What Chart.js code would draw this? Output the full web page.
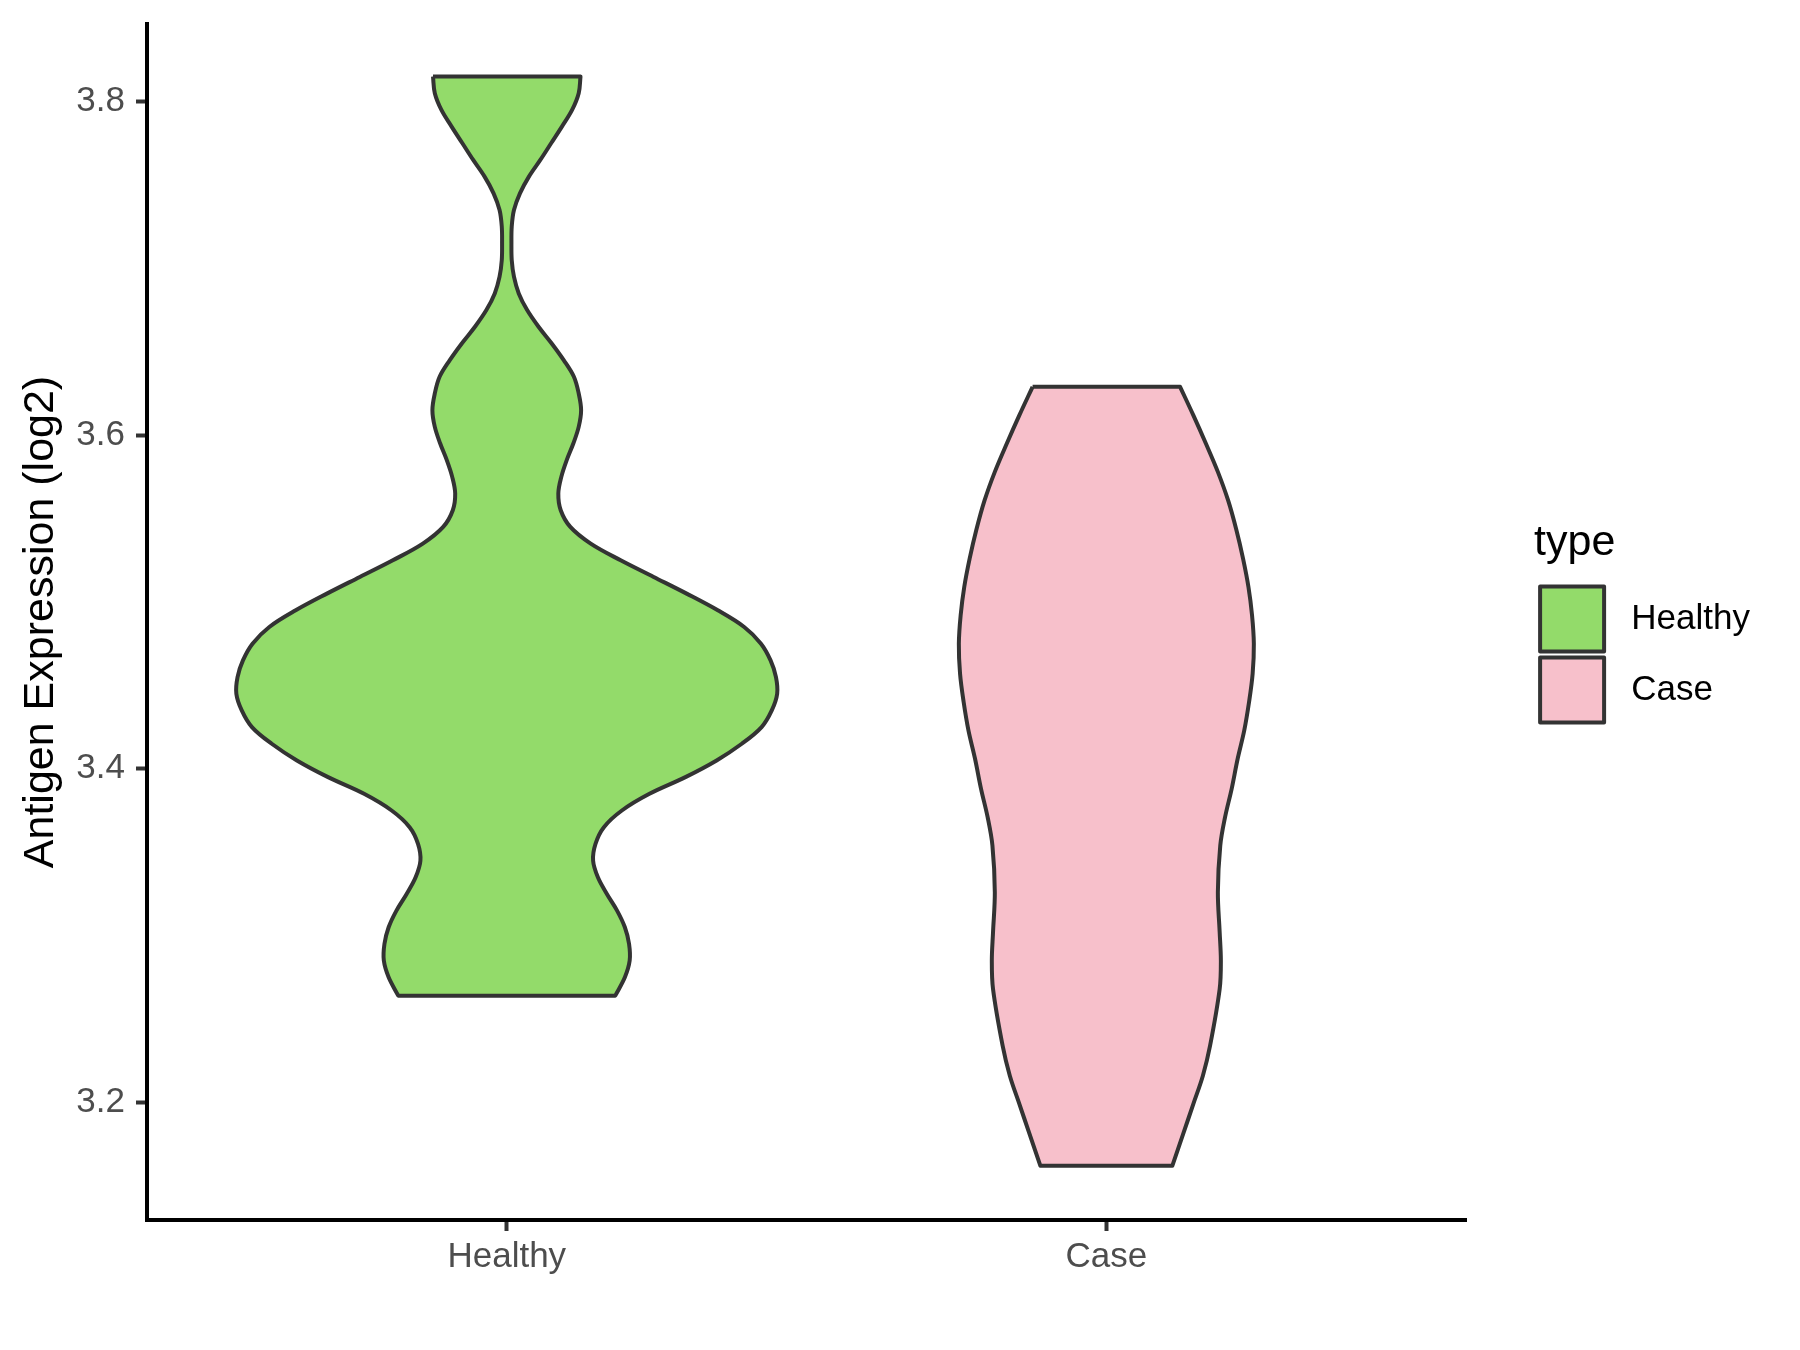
<!DOCTYPE html>
<html>
<head>
<meta charset="utf-8">
<title>Antigen Expression (log2)</title>
<script src="https://cdn.jsdelivr.net/npm/chart.js@4.4.1/dist/chart.umd.min.js"></script>
<style>
  html, body { margin: 0; padding: 0; background: #fff; }
  #wrap { width: 1800px; height: 1350px; }
</style>
</head>
<body>
<div id="wrap"><canvas id="violinChart"></canvas></div>
<script>
const categories = ["Healthy", "Case"];
const yTicks = [3.2, 3.4, 3.6, 3.8];

// violin outlines: expression value and half width (category units)
const healthyValues = [3.815, 3.805, 3.795, 3.785, 3.775, 3.765, 3.755, 3.745, 3.735, 3.725,
  3.715, 3.705, 3.695, 3.685, 3.675, 3.665, 3.655, 3.645, 3.635, 3.625, 3.615, 3.605, 3.595,
  3.585, 3.575, 3.565, 3.555, 3.545, 3.535, 3.525, 3.515, 3.505, 3.495, 3.485, 3.475, 3.465,
  3.455, 3.445, 3.435, 3.425, 3.415, 3.405, 3.395, 3.385, 3.375, 3.365, 3.355, 3.345, 3.335,
  3.325, 3.315, 3.305, 3.295, 3.285, 3.275, 3.264];
const healthyWidths = [0.123, 0.120, 0.109, 0.092, 0.074, 0.056, 0.037, 0.022, 0.012, 0.0083,
  0.0078, 0.0083, 0.012, 0.020, 0.034, 0.053, 0.075, 0.095, 0.112, 0.120, 0.124, 0.120, 0.111,
  0.100, 0.091, 0.086, 0.090, 0.106, 0.140, 0.190, 0.245, 0.300, 0.352, 0.396, 0.424, 0.440,
  0.449, 0.451, 0.442, 0.425, 0.392, 0.350, 0.298, 0.238, 0.192, 0.162, 0.148, 0.144, 0.152,
  0.167, 0.184, 0.197, 0.204, 0.205, 0.197, 0.181];

const caseValues = [3.629, 3.612, 3.595, 3.578, 3.561, 3.543, 3.526, 3.509, 3.492, 3.475, 3.457,
  3.440, 3.423, 3.406, 3.388, 3.371, 3.354, 3.326, 3.302, 3.285, 3.268, 3.234, 3.216, 3.199,
  3.182, 3.162];
const caseWidths = [0.123, 0.145, 0.166, 0.186, 0.203, 0.217, 0.228, 0.237, 0.243, 0.246, 0.244,
  0.238, 0.230, 0.219, 0.209, 0.198, 0.190, 0.186, 0.189, 0.191, 0.189, 0.173, 0.161, 0.145,
  0.129, 0.110];

function violinOutline(center, values, widths) {
  const left = values.map((v, i) => ({ x: center - widths[i], y: v }));
  const right = values.map((v, i) => ({ x: center + widths[i], y: v })).reverse();
  const top = left[0];
  const bottom = left[left.length - 1];
  // corners doubled so the flat ends stay straight with tension on
  return [top, ...left, bottom, right[0], ...right, right[right.length - 1], top];
}

const fontFamily = "'Liberation Sans', Arial, Helvetica, sans-serif";
Chart.defaults.font.family = fontFamily;

const violinStyle = {
  fill: "shape",
  borderColor: "#333333",
  borderWidth: 4,
  borderJoinStyle: "round",
  tension: 0.35,
  pointRadius: 0,
  pointHoverRadius: 0
};

const axisGrid = { drawOnChartArea: false, tickLength: 11, tickWidth: 4, tickColor: "#333333" };
const axisBorder = { display: true, color: "#000", width: 4 };

new Chart(document.getElementById("violinChart"), {
  type: "line",
  data: {
    datasets: [
      { label: categories[0], data: violinOutline(1, healthyValues, healthyWidths), backgroundColor: "#93DB6A", ...violinStyle },
      { label: categories[1], data: violinOutline(2, caseValues, caseWidths), backgroundColor: "#F7C0CB", ...violinStyle }
    ]
  },
  options: {
    responsive: true,
    maintainAspectRatio: false,
    animation: false,
    devicePixelRatio: 1,
    layout: { padding: { top: 24, right: 40, bottom: 0, left: 0 } },
    plugins: {
      tooltip: { enabled: false },
      legend: {
        position: "right",
        fullSize: false,
        align: "center",
        title: {
          display: true,
          text: "type",
          position: "start",
          color: "#000",
          font: { size: 43 },
          padding: { top: 6, bottom: 7.5 }
        },
        labels: {
          boxWidth: 64,
          boxHeight: 65,
          padding: 6,
          color: "#000",
          font: { size: 35 },
          // a leading space widens the gap between key and label
          generateLabels: chart => Chart.defaults.plugins.legend.labels.generateLabels(chart)
            .map(item => ({ ...item, text: " " + item.text, lineWidth: 4 }))
        }
      }
    },
    scales: {
      x: {
        type: "linear",
        min: 0.4,
        max: 2.6,
        afterBuildTicks: s => { s.ticks = categories.map((c, i) => ({ value: i + 1 })); },
        afterFit: s => { s.height = 130; },
        ticks: {
          callback: v => categories[v - 1],
          color: "#4D4D4D",
          font: { size: 35 },
          padding: 5,
          maxRotation: 0,
          autoSkip: false
        },
        grid: axisGrid,
        border: axisBorder
      },
      y: {
        type: "linear",
        min: 3.1295,
        max: 3.8465,
        afterBuildTicks: s => { s.ticks = yTicks.map(v => ({ value: v })); },
        afterFit: s => { s.width = 147; s.paddingTop = 0; s.paddingBottom = 0; },
        ticks: {
          callback: v => v.toFixed(1),
          color: "#4D4D4D",
          font: { size: 35 },
          padding: 11
        },
        grid: axisGrid,
        border: axisBorder,
        title: {
          display: true,
          text: "Antigen Expression (log2)",
          color: "#000",
          font: { size: 43 },
          padding: { top: 15, bottom: 0 }
        }
      },
      // empty axis that only keeps a gap between the panel and the legend
      gap: {
        type: "linear",
        position: "right",
        grid: { display: false },
        ticks: { display: false },
        border: { display: false },
        afterFit: s => { s.width = 68; }
      }
    }
  }
});
</script>
</body>
</html>
